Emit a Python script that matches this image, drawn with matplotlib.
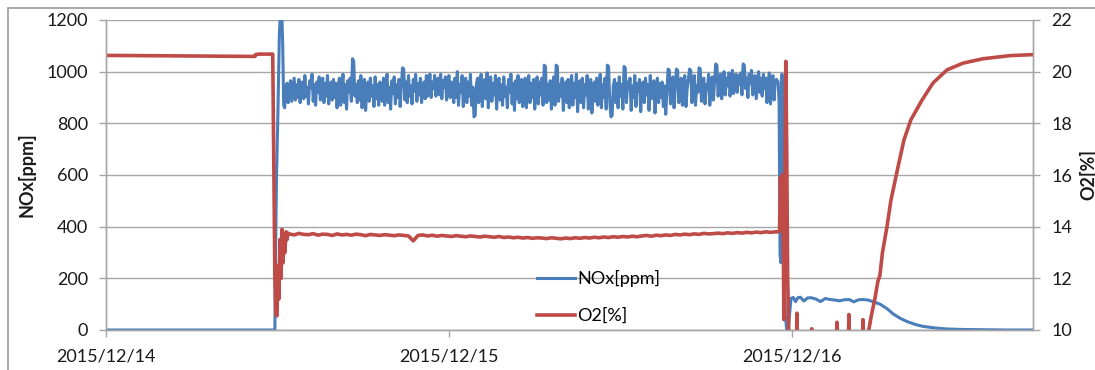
import numpy as np
import matplotlib
matplotlib.use("Agg")
import matplotlib.pyplot as plt
import matplotlib.dates as mdates
from matplotlib.patches import Rectangle

plt.rcParams['font.family'] = ['Lato', 'DejaVu Sans']

t0 = np.datetime64('2015-12-14T00:00')
t_end_min = 3892

# NOx [ppm] -- times in minutes from 2015/12/14 00:00
nox_start_t = [0, 705, 709, 712, 716, 722, 728, 733, 738, 742, 746, 750, 755]
nox_start_v = [0, 0, 0, 300, 600, 850, 1150, 1230, 1230, 1100, 870, 860, 930]

# steady combustion, one reading every 5 minutes from minute 760
nox_steady_t0 = 760
nox_steady_step = 5
nox_steady = [
    955, 880, 940, 965, 885, 930, 975, 890, 950, 900, 970, 880, 945, 960, 895, 985, 905, 940, 875, 965,
    935, 990, 885, 950, 870, 960, 920, 980, 890, 945, 975, 880, 955, 905, 985, 875, 940, 960, 890, 970,
    900, 955, 860, 945, 975, 870, 935, 990, 880, 950, 855, 965, 920, 975, 885, 1050, 1040, 905, 950, 880,
    965, 890, 985, 860, 940, 970, 850, 930, 960, 885, 975, 905, 945, 865, 980, 895, 950, 870, 960, 930,
    885, 975, 870, 955, 990, 880, 940, 855, 965, 915, 980, 875, 950, 900, 970, 865, 945, 1015, 1010, 890,
    960, 880, 985, 905, 945, 875, 970, 925, 990, 885, 955, 910, 975, 880, 940, 960, 895, 985, 905, 950,
    990, 900, 960, 935, 985, 905, 950, 975, 910, 990, 895, 965, 940, 980, 890, 955, 985, 900, 960, 930,
    880, 975, 900, 1000, 870, 950, 920, 985, 865, 945, 975, 880, 960, 905, 990, 870, 940, 825, 830, 950,
    975, 880, 950, 990, 865, 935, 970, 895, 995, 860, 945, 980, 885, 955, 910, 985, 855, 940, 975, 890,
    950, 870, 980, 905, 940, 860, 970, 920, 990, 875, 955, 850, 965, 895, 985, 880, 945, 970, 865, 935,
    975, 860, 945, 985, 880, 955, 900, 970, 855, 940, 980, 875, 960, 910, 975, 870, 1025, 1020, 880, 950,
    890, 965, 855, 940, 980, 870, 1025, 1020, 885, 950, 905, 975, 850, 935, 960, 880, 970, 860, 945, 985,
    870, 955, 900, 990, 845, 940, 965, 880, 975, 860, 950, 910, 985, 855, 935, 970, 840, 925, 960, 885,
    975, 870, 945, 990, 860, 950, 900, 975, 855, 1025, 1020, 885, 825, 830, 945, 970, 880, 955, 860, 980,
    905, 950, 855, 1020, 1015, 880, 960, 935, 975, 850, 945, 900, 985, 865, 955, 925, 970, 845, 940, 960,
    880, 975, 910, 950, 850, 985, 895, 940, 965, 840, 930, 975, 880, 955, 900, 960, 865, 945, 835, 920,
    1010, 1005, 875, 950, 980, 860, 940, 1010, 1005, 880, 955, 975, 870, 945, 985, 865, 935, 970, 1010, 1005,
    880, 955, 985, 870, 945, 920, 1015, 1010, 885, 960, 975, 875, 950, 930, 990, 870, 945, 980, 890, 960,
    1030, 1025, 905, 970, 990, 895, 955, 1000, 910, 975, 945, 995, 905, 960, 1005, 915, 970, 990, 920, 985,
    950, 995, 910, 1030, 1025, 935, 975, 900, 990, 955, 1005, 910, 965, 985, 895, 950, 1000, 920, 975, 905,
    990, 935, 975, 880, 960, 995, 875, 950, 985, 890, 965, 970,
]

nox_end_t = [2822, 2826, 2830, 2834, 2838, 2842, 2846, 2852, 2858, 2864, 2870, 2876,
             2885, 2895, 2905, 2915, 2930, 2945, 2960, 2980, 3000, 3020, 3040, 3060,
             3080, 3100, 3120, 3140, 3160, 3180, 3200, 3225, 3250, 3280, 3305, 3335,
             3365, 3400, 3430, 3480, 3530, 3600, 3680, 3780, 3892]
nox_end_v = [960, 880, 290, 260, 990, 700, 300, 60, 0, 0, 60, 122,
             126, 110, 125, 127, 112, 124, 125, 120, 110, 122, 118, 116,
             113, 117, 118, 109, 117, 118, 116, 108, 100, 82, 62, 45,
             32, 21, 14, 8, 4, 2, 1, 0, 0]

# O2 [%]
o2_start_t = [0, 300, 625, 628, 640, 700, 703, 706, 709, 713, 718, 722, 726, 730,
              735, 739, 743, 747, 751, 756, 760, 764]
o2_start_v = [20.63, 20.61, 20.59, 20.66, 20.68, 20.68, 18.0, 15.0, 12.0, 10.6, 10.55,
              12.5, 11.2, 13.5, 12.0, 13.9, 12.6, 13.4, 13.0, 13.8, 13.5, 13.75]

# steady combustion, one reading every 20 minutes from minute 770
o2_steady_t0 = 770
o2_steady_step = 20
o2_steady = [
    13.72, 13.68, 13.74, 13.70, 13.69, 13.73, 13.67, 13.71, 13.70, 13.66,
    13.72, 13.68, 13.70, 13.67, 13.71, 13.69, 13.65, 13.70, 13.68, 13.66,
    13.69, 13.67, 13.65, 13.68, 13.66, 13.64, 13.45, 13.66, 13.68, 13.64,
    13.67, 13.63, 13.66, 13.64, 13.62, 13.65, 13.63, 13.61, 13.64, 13.62,
    13.60, 13.63, 13.61, 13.59, 13.62, 13.58, 13.60, 13.57, 13.59, 13.56,
    13.58, 13.55, 13.57, 13.56, 13.54, 13.57, 13.55, 13.53, 13.56, 13.54,
    13.57, 13.55, 13.58, 13.56, 13.59, 13.57, 13.60, 13.58, 13.61, 13.59,
    13.62, 13.60, 13.63, 13.61, 13.64, 13.66, 13.63, 13.67, 13.65, 13.68,
    13.66, 13.70, 13.68, 13.71, 13.69, 13.72, 13.70, 13.74, 13.72, 13.73,
    13.75, 13.73, 13.76, 13.74, 13.77, 13.75, 13.78, 13.76, 13.79, 13.77,
    13.80, 13.78, 13.80,
]

o2_end_t = [2822, 2828, 2831, 2834, 2838, 2842, 2846, 2850, 2854, 2858, 2862, 2867,
            2871, 2898, 2901, 2904, 2960, 2963, 2966, 3066, 3069, 3072, 3116, 3119,
            3122, 3175, 3178, 3181, 3199, 3212, 3228, 3241, 3249, 3260, 3279, 3295,
            3325, 3350, 3379, 3426, 3472, 3531, 3598, 3682, 3795, 3892]
o2_end_v = [13.80, 13.82, 15.9, 15.3, 16.0, 15.5, 10.4, 15.0, 20.4, 17.0, 12.0, 9.8,
            9.0, 9.0, 10.65, 9.0, 9.0, 10.05, 9.0, 9.0, 10.3, 9.0, 9.0, 10.6,
            9.0, 9.0, 10.4, 9.0, 9.8, 10.5, 11.2, 11.9, 12.1, 13.0, 14.0, 15.0,
            16.3, 17.35, 18.13, 18.9, 19.56, 20.07, 20.33, 20.5, 20.62, 20.66]

nox_ticks = [0, 200, 400, 600, 800, 1000, 1200]
o2_ticks = [10, 12, 14, 16, 18, 20, 22]


def to_time(minutes):
    return t0 + np.asarray(minutes).astype('timedelta64[m]')


nox_t = np.concatenate([nox_start_t,
                        nox_steady_t0 + nox_steady_step * np.arange(len(nox_steady)),
                        nox_end_t])
nox_v = np.concatenate([nox_start_v, nox_steady, nox_end_v])
o2_t = np.concatenate([o2_start_t,
                       o2_steady_t0 + o2_steady_step * np.arange(len(o2_steady)),
                       o2_end_t])
o2_v = np.concatenate([o2_start_v, o2_steady, o2_end_v])

blue = '#4a7ebb'
red = '#be4b48'
grid_c = '#a6a6a6'
txt_c = '#1a1a1a'

fig = plt.figure(figsize=(10.95, 3.70), dpi=100)
ax = fig.add_axes([106 / 1095, 40 / 370, 927 / 1095, 310 / 370])
ax2 = ax.twinx()

l1, = ax.plot(to_time(nox_t), nox_v, color=blue, lw=2.2, label='NOx[ppm]',
              solid_joinstyle='round')
l2, = ax2.plot(to_time(o2_t), o2_v, color=red, lw=2.6, label='O2[%]',
               solid_joinstyle='round')

ax.set_xlim(to_time(0), to_time(t_end_min))
ax.set_ylim(0, 1200)
ax.set_yticks(nox_ticks)
ax2.set_ylim(10, 22)
ax2.set_yticks(o2_ticks)

ax.xaxis.set_major_locator(mdates.DayLocator())
ax.xaxis.set_major_formatter(mdates.DateFormatter('%Y/%m/%d'))

ax.grid(axis='y', color=grid_c, lw=1)
ax.set_axisbelow(True)

for a in (ax, ax2):
    for s in a.spines.values():
        s.set_color(grid_c)
        s.set_linewidth(1)
    a.spines['top'].set_visible(False)
    a.tick_params(colors=grid_c, labelcolor=txt_c, labelsize=13, length=5, width=1, pad=8)

ax.set_ylabel('NOx[ppm]', fontsize=13, fontweight='bold', color=txt_c, labelpad=8)
ax2.set_ylabel('O2[%]', fontsize=13, fontweight='bold', color=txt_c, labelpad=5,
               rotation=90)

ax.legend(handles=[l1, l2], loc='upper left', bbox_to_anchor=(537 / 1095, 1 - 270 / 370),
          bbox_transform=fig.transFigure, frameon=False, fontsize=13,
          handlelength=2.1, handletextpad=0.15, labelspacing=1.15, borderpad=0,
          borderaxespad=0)

# outer chart border
fig.add_artist(Rectangle((8 / 1095, -0.2), 1.2, 1.2 - 8 / 370, transform=fig.transFigure,
                         fill=False, edgecolor='#9a9a9a', lw=1.2, clip_on=False))

fig.savefig('out.png', dpi=100)
